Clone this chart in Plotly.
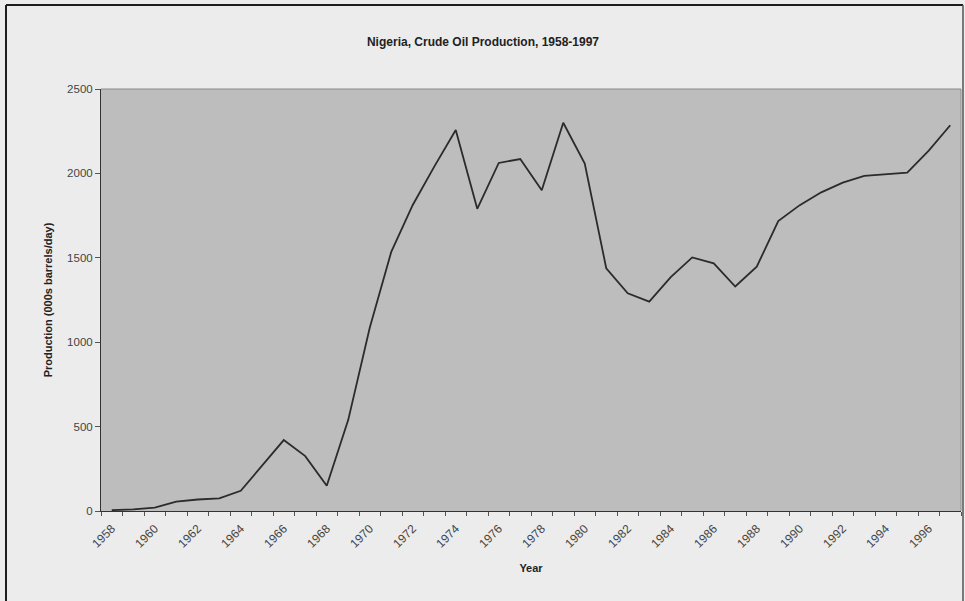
import plotly.graph_objects as go

# Nigeria crude oil production, thousand barrels per day
years = list(range(1958, 1998))
production = [
    5, 10, 20, 55, 68, 75, 120, 272, 420, 325,
    150, 540, 1085, 1535, 1813, 2040, 2257, 1790, 2062, 2085,
    1900, 2300, 2058, 1438, 1290, 1240, 1385, 1502, 1467, 1330,
    1447, 1718, 1812, 1888, 1945, 1985, 1994, 2004, 2135, 2285,
]
tick_years = list(range(1958, 1998, 2))
y_ticks = [0, 500, 1000, 1500, 2000, 2500]

W, H = 965, 601
L, R, T, B = 101, 4, 89, 90
pw, ph = W - L - R, H - T - B


def px_x(x):
    return (x - L) / pw


def px_y(y):
    return (H - B - y) / ph


fig = go.Figure()
fig.add_trace(go.Scatter(
    x=years, y=production, mode="lines",
    line=dict(color="#2b2b2b", width=1.8),
    showlegend=False, hoverinfo="x+y",
))

font = "Liberation Sans, Arial, sans-serif"

fig.update_layout(
    width=W, height=H,
    margin=dict(l=L, r=R, t=T, b=B),
    paper_bgcolor="#ececec",
    plot_bgcolor="#bdbdbd",
    font=dict(family=font, size=11, color="#333333"),
    title=dict(
        text="<b>Nigeria, Crude Oil Production, 1958-1997</b>",
        x=px_x(483), xref="paper", xanchor="center",
        y=1 - 42 / H, yanchor="middle",
        font=dict(size=12, color="#222222"),
    ),
    xaxis=dict(
        range=[1957.5, 1997.5],
        tickvals=tick_years,
        ticktext=[str(v) for v in tick_years],
        tickangle=-45,
        ticks="", showgrid=False, zeroline=False,
        showline=True, linecolor="#333333", linewidth=1,
        ticklabelstandoff=5,
        minor=dict(tick0=1957.5, dtick=1, ticks="outside", ticklen=4,
                   tickcolor="#555555", showgrid=False),
        title=dict(text="<b>Year</b>", font=dict(size=11, color="#222222"),
                   standoff=14),
        tickfont=dict(size=12, color="#444444"),
    ),
    yaxis=dict(
        range=[0, 2500],
        tickvals=y_ticks,
        ticks="outside", ticklen=5, tickcolor="#555555",
        showgrid=False, zeroline=False,
        showline=True, linecolor="#333333", linewidth=1,
        title=dict(text="<b>Production (000s barrels/day)</b>",
                   font=dict(size=11, color="#222222"), standoff=12),
        tickfont=dict(size=11.5, color="#444444"),
    ),
)

# plot-area border on top and right
fig.add_shape(type="line", xref="paper", yref="paper", x0=0, x1=1, y0=1, y1=1,
              line=dict(color="#8a8a8a", width=1))
fig.add_shape(type="line", xref="paper", yref="paper", x0=1, x1=1, y0=0, y1=1,
              line=dict(color="#8a8a8a", width=1))

# outer chart frame
frame = dict(color="#1e1e1e", width=2)
fig.add_shape(type="line", xref="paper", yref="paper",
              x0=px_x(6), x1=px_x(6), y0=px_y(5), y1=px_y(H + 5), line=frame)
fig.add_shape(type="line", xref="paper", yref="paper",
              x0=px_x(6), x1=px_x(963), y0=px_y(5), y1=px_y(5), line=frame)
fig.add_shape(type="line", xref="paper", yref="paper",
              x0=px_x(963), x1=px_x(963), y0=px_y(5), y1=px_y(H + 5),
              line=dict(color="#555555", width=1.5))

fig.write_html("out.html")
